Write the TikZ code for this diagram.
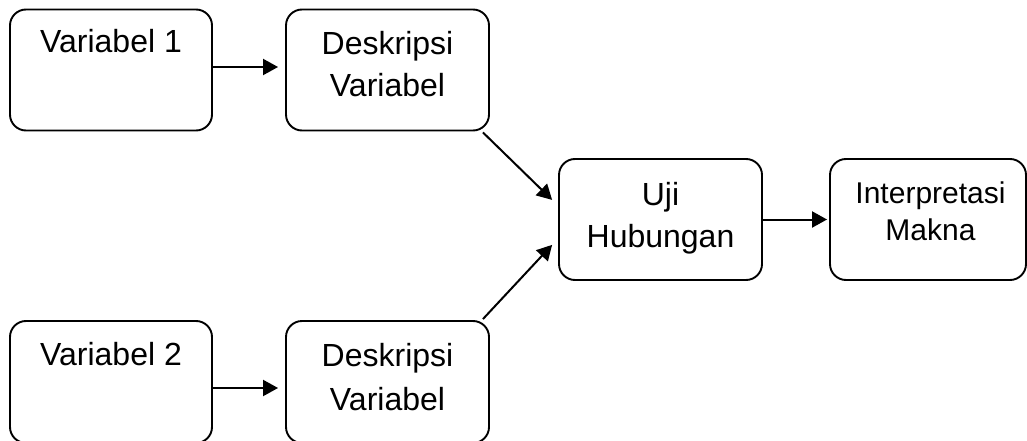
\documentclass[tikz,border=0pt]{standalone}
\usepackage{fontspec}
\setmainfont{Liberation Sans}
\usetikzlibrary{arrows.meta}

% two-line label whose reference point is the first baseline
\newcommand{\twolines}[2]{\begin{tabular}[t]{@{}c@{}}#1\\#2\end{tabular}}

\begin{document}
\begin{tikzpicture}[x=1pt,y=-1pt,
  box/.style={draw=black,line width=1.9pt,rounded corners=16pt,
    minimum height=121pt,inner sep=0pt},
  txt/.style={anchor=base,inner sep=0pt,font=\fontsize{32}{42}\selectfont},
  smalltxt/.style={anchor=base,inner sep=0pt,font=\fontsize{30}{37}\selectfont},
  link/.style={line width=2pt,-{Triangle[length=15pt,width=16pt]}}]

\useasboundingbox (0,0) rectangle (1027,441);
\clip (0,0) rectangle (1027,441);

% boxes
\node[box,minimum width=202pt] (v1) at (111,70) {};
\node[box,minimum width=203pt] (d1) at (387.5,70) {};
\node[box,minimum width=203pt] (u)  at (660.5,219.5) {};
\node[box,minimum width=196pt] (ip) at (928,219.5) {};
\node[box,minimum width=202pt,minimum height=122pt] (v2) at (111,382) {};
\node[box,minimum width=203pt,minimum height=122pt] (d2) at (387.5,382) {};

% labels
\node[txt] (v1t) at (111,53) {Variabel 1};
\node[txt] (d1t) at (387.5,55) {\twolines{Deskripsi}{Variabel}};
\node[txt] (ut)  at (660.5,205) {\twolines{Uji}{Hubungan}};
\node[smalltxt] (ipt) at (930.5,203) {\twolines{Interpretasi}{Makna}};
\node[txt] (v2t) at (111,365) {Variabel 2};
\node[txt,font=\fontsize{32}{44}\selectfont] (d2t) at (387.5,366) {\twolines{Deskripsi}{Variabel}};

% connectors
\draw[link,shorten >=7pt] ([yshift=3pt]v1.east) -- ([yshift=3pt]d1.west);
\draw[link,shorten >=7pt] ([yshift=-6pt]v2.east) -- ([yshift=-6pt]d2.west);
\draw[link,shorten >=2pt] (u.east) -- (ip.west);
\draw[link,shorten >=8.3pt] ([xshift=-7pt,yshift=-1pt]d1.south east) -- ([yshift=13.8pt]u.west);
\draw[link,shorten >=8.7pt] ([xshift=-7pt,yshift=1pt]d2.north east) -- ([yshift=-19pt]u.west);
\end{tikzpicture}
\end{document}
